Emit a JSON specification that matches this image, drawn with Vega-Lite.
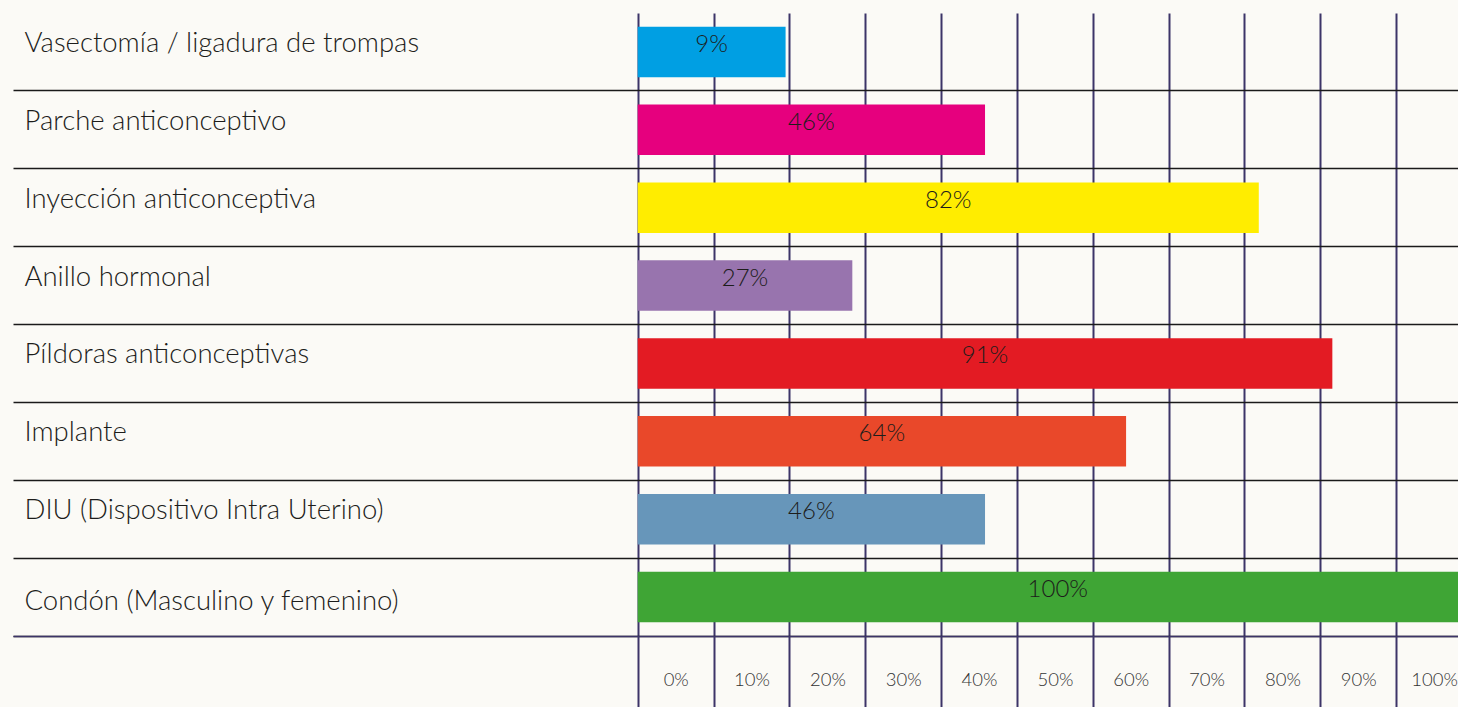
{
  "$schema": "https://vega.github.io/schema/vega-lite/v6.json",
  "width": 1445,
  "height": 623,
  "autosize": {"type": "none"},
  "padding": {"left": 13, "top": 13, "right": 0, "bottom": 71},
  "background": "#FBFAF6",
  "config": {"view": {"stroke": null}, "font": "Lato"},
  "data": {
    "values": [
      {"metodo": "Vasectomía / ligadura de trompas", "bar": 19.5, "label": "9%", "color": "#009FE3"},
      {"metodo": "Parche anticonceptivo", "bar": 45.8, "label": "46%", "color": "#E6007E"},
      {"metodo": "Inyección anticonceptiva", "bar": 81.9, "label": "82%", "color": "#FFED00"},
      {"metodo": "Anillo hormonal", "bar": 28.3, "label": "27%", "color": "#9874AE"},
      {"metodo": "Píldoras anticonceptivas", "bar": 91.6, "label": "91%", "color": "#E31B23"},
      {"metodo": "Implante", "bar": 64.4, "label": "64%", "color": "#E9482A"},
      {"metodo": "DIU (Dispositivo Intra Uterino)", "bar": 45.8, "label": "46%", "color": "#6796BA"},
      {"metodo": "Condón (Masculino y femenino)", "bar": 110.8, "label": "100%", "color": "#3FA535"}
    ]
  },
  "layer": [
    {
      "mark": {"type": "bar", "height": {"band": 0.65}},
      "encoding": {
        "y": {
          "field": "metodo", "type": "nominal", "sort": null,
          "scale": {"paddingInner": 0, "paddingOuter": 0},
          "axis": {
            "title": null, "domain": false, "ticks": false, "grid": true,
            "bandPosition": 1, "gridColor": "#1a1a1a", "gridWidth": 1.6,
            "labelAlign": "left", "labelBaseline": "middle", "labelPadding": -11,
            "labelOffset": {"condition": {"test": "datum.value == 'Condón (Masculino y femenino)'", "value": 5}, "value": -8},
            "labelFont": "Lato", "labelFontWeight": 300, "labelFontSize": 27.5, "labelColor": "#1d1d1b", "labelLimit": 0
          }
        },
        "x": {
          "field": "bar", "type": "quantitative",
          "scale": {"domain": [-82.38, 108.17], "nice": false, "zero": false},
          "axis": {
            "title": null, "values": [0, 10, 20, 30, 40, 50, 60, 70, 80, 90, 100],
            "grid": true, "gridColor": "#3C3468", "gridWidth": 2,
            "ticks": true, "tickSize": 71, "tickColor": "#3C3468", "tickWidth": 2,
            "domain": true, "domainColor": "#3C3468", "domainWidth": 1.6,
            "labelExpr": "datum.value + '%'", "labelOffset": 38, "labelPadding": -28,
            "labelBaseline": "middle", "labelFlush": false, "labelOverlap": false,
            "labelFont": "Lato", "labelFontWeight": 300, "labelFontSize": 18.5, "labelColor": "#333333"
          }
        },
        "color": {"field": "color", "type": "nominal", "scale": null}
      }
    },
    {
      "mark": {"type": "text", "dy": -7, "font": "Lato", "fontWeight": 300, "fontSize": 24, "color": "#1d1d1b"},
      "encoding": {
        "y": {"field": "metodo", "type": "nominal", "sort": null},
        "x": {
          "field": "bar", "type": "quantitative",
          "scale": {"domain": [-164.76, 216.34], "nice": false, "zero": false},
          "axis": null
        },
        "text": {"field": "label"}
      }
    }
  ],
  "resolve": {"scale": {"x": "independent"}}
}
